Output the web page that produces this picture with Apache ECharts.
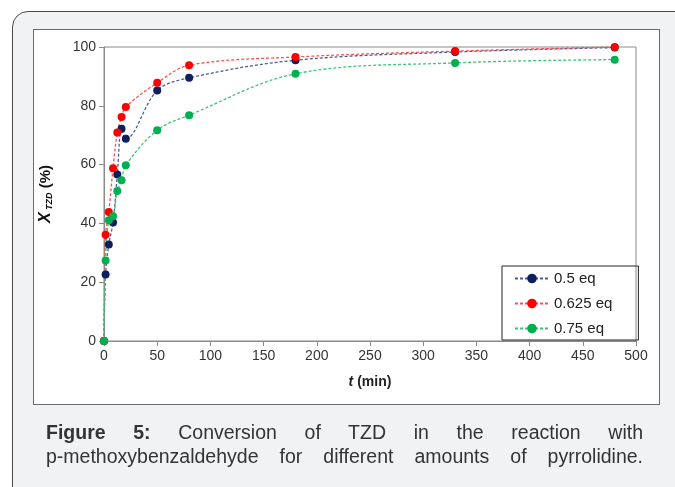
<!DOCTYPE html>
<html>
<head>
<meta charset="utf-8">
<script src="https://cdn.jsdelivr.net/npm/echarts@6/dist/echarts.min.js"></script>
<style>
  html, body { margin: 0; padding: 0; background: #fff; overflow: hidden; }
  #card { position: absolute; left: 12px; top: 11px; width: 700px; height: 520px;
          border: 1px solid #4a4a4a; border-radius: 16px; background: #f1f2f4; }
  #box { position: absolute; left: 33px; top: 29px; width: 625px; height: 374px;
         background: #fff; border: 1px solid #6b6b6b; }
  #chart { position: absolute; left: 0; top: 0; width: 675px; height: 487px; }
  #caption { position: absolute; left: 46px; top: 420px; width: 597px;
             font-family: "Liberation Sans", Arial, sans-serif; font-size: 19.5px; line-height: 24px;
             color: #333; text-align: justify; text-align-last: justify; }
</style>
</head>
<body>
<div id="card"></div>
<div id="box"></div>
<div id="chart"></div>
<div id="caption"><b>Figure 5:</b> Conversion of TZD in the reaction with<br>p-methoxybenzaldehyde for different amounts of pyrrolidine.</div>
<script>
// reaction time (min) and conversion of TZD (%)
var times = [0, 1.5, 4.5, 8.5, 12.5, 16.5, 20.5, 50, 80, 180, 330, 480];
var eq050 = [0, 22.6, 32.8, 40.3, 56.6, 72.2, 68.8, 85.2, 89.5, 95.5, 98.3, 99.8];
var eq0625 = [0, 36.1, 43.9, 58.8, 70.9, 76.2, 79.6, 87.8, 93.8, 96.6, 98.6, 100];
var eq075 = [0, 27.4, 41.1, 42.4, 51.0, 54.7, 59.8, 71.7, 76.8, 90.9, 94.6, 95.7];
var names = ['0.5 eq', '0.625 eq', '0.75 eq'];

function pairs(ys) {
    var out = [];
    for (var i = 0; i < times.length; i++) out.push([times[i], ys[i]]);
    return out;
}

function mkSeries(name, ys, dot, line) {
    return {
        name: name, type: 'line', data: pairs(ys),
        symbol: 'circle', symbolSize: 8, smooth: 0.35,
        itemStyle: { color: dot },
        lineStyle: { color: line, width: 1.3, type: [3, 2] },
        emphasis: { disabled: true }
    };
}

var font = '"Liberation Sans", Arial, sans-serif';
var myChart = echarts.init(document.getElementById('chart'));
myChart.setOption({
    animation: false,
    textStyle: { fontFamily: font },
    grid: { left: 104, top: 47, right: 39, bottom: 146, show: true, borderColor: '#8a8a8a', borderWidth: 1 },
    legend: {
        left: 502, top: 266, orient: 'vertical',
        data: names,
        itemWidth: 34, itemHeight: 12, itemGap: 10,
        padding: [5, 26, 4, 12],
        borderColor: '#222', borderWidth: 1,
        textStyle: { fontSize: 15, color: '#222', fontFamily: font }
    },
    xAxis: {
        type: 'value', min: 0, max: 500, interval: 50,
        name: '{t|t}{m| (min)}', nameLocation: 'middle', nameGap: 34,
        nameTextStyle: { rich: {
            t: { fontSize: 14, fontWeight: 'bold', fontStyle: 'italic', color: '#222', fontFamily: font },
            m: { fontSize: 14, fontWeight: 'bold', color: '#222', fontFamily: font }
        } },
        splitLine: { show: false },
        axisLine: { lineStyle: { color: '#8a8a8a' } },
        axisTick: { length: 5, lineStyle: { color: '#8a8a8a' } },
        axisLabel: { fontSize: 14, color: '#333', margin: 8 }
    },
    yAxis: {
        type: 'value', min: 0, max: 100, interval: 20,
        name: '{x|X}{s| TZD}{p| (%)}', nameLocation: 'middle', nameGap: 50, nameRotate: 90,
        nameTextStyle: { rich: {
            x: { fontSize: 16, fontWeight: 'bold', fontStyle: 'italic', color: '#111', fontFamily: font },
            s: { fontSize: 9, fontWeight: 'bold', fontStyle: 'italic', color: '#111', fontFamily: font, verticalAlign: 'bottom', padding: [6, 0, 0, 0] },
            p: { fontSize: 15, fontWeight: 'bold', color: '#111', fontFamily: font }
        } },
        splitLine: { show: false },
        axisLine: { show: true, lineStyle: { color: '#8a8a8a' } },
        axisTick: { show: true, length: 5, lineStyle: { color: '#8a8a8a' } },
        axisLabel: { fontSize: 14, color: '#333', margin: 8 }
    },
    series: [
        mkSeries(names[0], eq050, '#0d1f5c', '#4a5c98'),
        mkSeries(names[1], eq0625, '#ff0000', '#ff5050'),
        mkSeries(names[2], eq075, '#00b050', '#3cc47a')
    ]
});
</script>
</body>
</html>
